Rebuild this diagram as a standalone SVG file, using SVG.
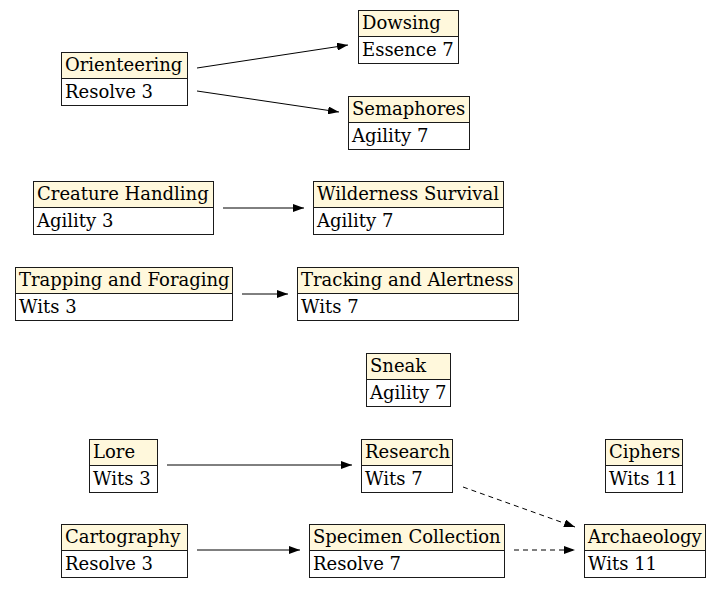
<svg xmlns="http://www.w3.org/2000/svg" width="720" height="589" viewBox="0 0 720 589">
<style>
.hd{fill:#fff8dc;stroke:#1a1a1a;stroke-width:1}
.bd{fill:#fff;stroke:#1a1a1a;stroke-width:1}
text{font-family:"DejaVu Serif",serif;font-size:18px;fill:#000}
.e{fill:none;stroke:#000;stroke-width:1}
.d{stroke-dasharray:5,4}
</style>
<defs>
<marker id="ah" viewBox="0 0 11 8" refX="11" refY="4" markerWidth="11" markerHeight="8" markerUnits="userSpaceOnUse" orient="auto">
<path d="M0,0 L11,4 L0,8 z" fill="#000"/>
</marker>
</defs>
<rect width="720" height="589" fill="#fff"/>
<g id="edges">
<path class="e" d="M197,68 L348,45" marker-end="url(#ah)"/>
<path class="e" d="M197,91 L339,112" marker-end="url(#ah)"/>
<path class="e" d="M223,208 L304,208" marker-end="url(#ah)"/>
<path class="e" d="M242,294 L288,294" marker-end="url(#ah)"/>
<path class="e" d="M167,465 L352,465" marker-end="url(#ah)"/>
<path class="e" d="M197,550 L300,550" marker-end="url(#ah)"/>
<path class="e d" d="M463,487 L575,527" marker-end="url(#ah)"/>
<path class="e d" d="M514,550 L575,550" marker-end="url(#ah)"/>
</g>
<g id="dowsing"><rect class="hd" x="358.5" y="10.5" width="100" height="26"/><rect class="bd" x="358.5" y="36.5" width="100" height="27"/><text x="362" y="29">Dowsing</text><text x="362" y="56">Essence 7</text></g>
<g id="orienteering"><rect class="hd" x="61.5" y="52.5" width="126" height="26"/><rect class="bd" x="61.5" y="78.5" width="126" height="27"/><text x="65" y="71">Orienteering</text><text x="65" y="98">Resolve 3</text></g>
<g id="semaphores"><rect class="hd" x="348.5" y="96.5" width="121" height="26"/><rect class="bd" x="348.5" y="122.5" width="121" height="27"/><text x="352" y="115">Semaphores</text><text x="352" y="142">Agility 7</text></g>
<g id="creature"><rect class="hd" x="33.5" y="181.5" width="180" height="26"/><rect class="bd" x="33.5" y="207.5" width="180" height="27"/><text x="37" y="200">Creature Handling</text><text x="37" y="227">Agility 3</text></g>
<g id="wilderness"><rect class="hd" x="313.5" y="181.5" width="190" height="26"/><rect class="bd" x="313.5" y="207.5" width="190" height="27"/><text x="317" y="200">Wilderness Survival</text><text x="317" y="227">Agility 7</text></g>
<g id="trapping"><rect class="hd" x="15.5" y="267.5" width="217" height="26"/><rect class="bd" x="15.5" y="293.5" width="217" height="27"/><text x="19" y="286">Trapping and Foraging</text><text x="19" y="313">Wits 3</text></g>
<g id="tracking"><rect class="hd" x="297.5" y="267.5" width="221" height="26"/><rect class="bd" x="297.5" y="293.5" width="221" height="27"/><text x="301" y="286">Tracking and Alertness</text><text x="301" y="313">Wits 7</text></g>
<g id="sneak"><rect class="hd" x="366.5" y="353.5" width="84" height="26"/><rect class="bd" x="366.5" y="379.5" width="84" height="27"/><text x="370" y="372">Sneak</text><text x="370" y="399">Agility 7</text></g>
<g id="lore"><rect class="hd" x="89.5" y="439.5" width="68" height="26"/><rect class="bd" x="89.5" y="465.5" width="68" height="27"/><text x="93" y="458">Lore</text><text x="93" y="485">Wits 3</text></g>
<g id="research"><rect class="hd" x="361.5" y="439.5" width="91" height="26"/><rect class="bd" x="361.5" y="465.5" width="91" height="27"/><text x="365" y="458">Research</text><text x="365" y="485">Wits 7</text></g>
<g id="ciphers"><rect class="hd" x="605.5" y="439.5" width="77" height="26"/><rect class="bd" x="605.5" y="465.5" width="77" height="27"/><text x="609" y="458">Ciphers</text><text x="609" y="485">Wits 11</text></g>
<g id="cartography"><rect class="hd" x="61.5" y="524.5" width="126" height="26"/><rect class="bd" x="61.5" y="550.5" width="126" height="27"/><text x="65" y="543">Cartography</text><text x="65" y="570">Resolve 3</text></g>
<g id="specimen"><rect class="hd" x="309.5" y="524.5" width="195" height="26"/><rect class="bd" x="309.5" y="550.5" width="195" height="27"/><text x="313" y="543">Specimen Collection</text><text x="313" y="570">Resolve 7</text></g>
<g id="archaeology"><rect class="hd" x="584.5" y="524.5" width="121" height="26"/><rect class="bd" x="584.5" y="550.5" width="121" height="27"/><text x="588" y="543">Archaeology</text><text x="588" y="570">Wits 11</text></g>
</svg>
